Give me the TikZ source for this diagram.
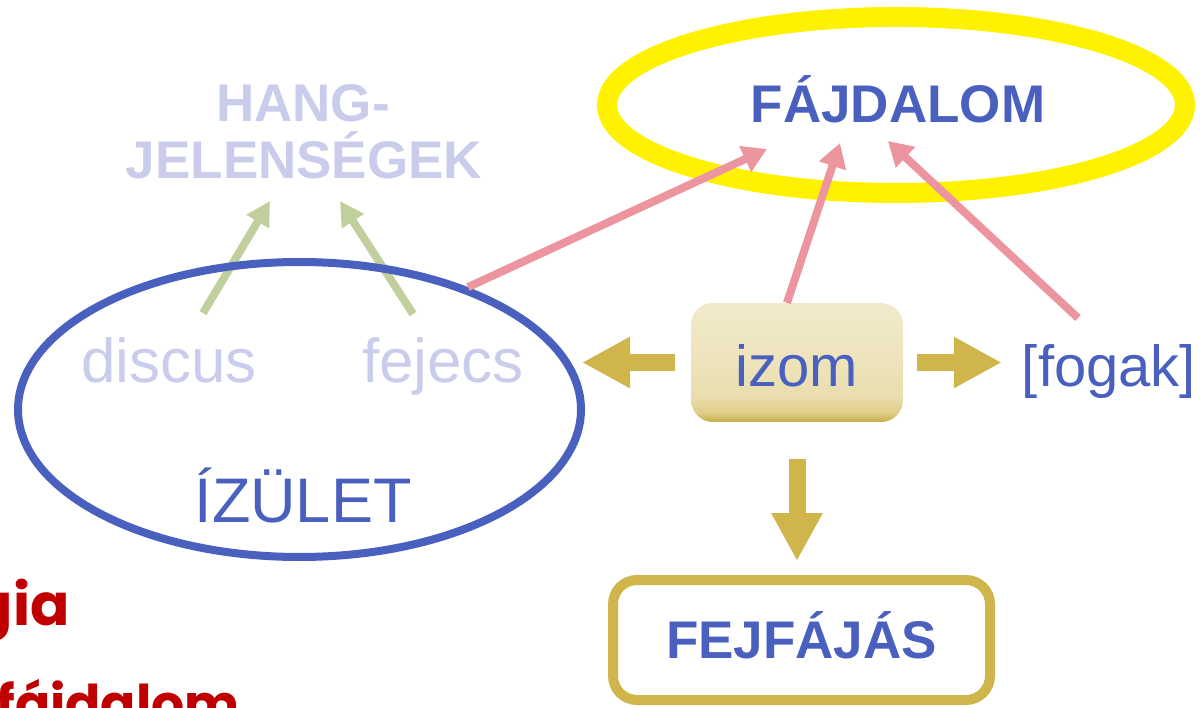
\documentclass[tikz,border=0pt]{standalone}
\usepackage{fontspec}
\setmainfont{Liberation Sans}
\newfontfamily\redfont{Poppins}
\usepackage{xcolor}
\usepackage{tikz}
\usetikzlibrary{arrows.meta,shapes.geometric}
\definecolor{painblue}{HTML}{4A60BF}
\definecolor{faded}{HTML}{C9CDEB}
\definecolor{soundgreen}{HTML}{C0CF9C}
\definecolor{painpink}{HTML}{EC959F}
\definecolor{musclegold}{HTML}{CFB54B}
\definecolor{slidered}{HTML}{C00000}
\pgfdeclareverticalshading{izomfade}{100bp}{color(0bp)=(musclegold!95!black); color(25bp)=(musclegold!95!black);
  color(29bp)=(musclegold!65!white); color(36bp)=(musclegold!45!white); color(55bp)=(musclegold!35!white);
  color(75bp)=(musclegold!30!white); color(100bp)=(musclegold!30!white)}

\begin{document}
\begin{tikzpicture}[x=1pt, y=-1pt,
    every node/.style={inner sep=0pt},
    word/.style={anchor=base, font=\fontsize{#1}{#1}\selectfont},
    fadedword/.style={word=#1, text=faded},
    blueword/.style={word=#1, text=painblue},
    redword/.style={anchor=base east, text=slidered, font=\redfont\bfseries\fontsize{#1}{#1}\selectfont},
    ring/.style={ellipse, draw, minimum width=#1},
    greenarrow/.style={draw=soundgreen, line width=8pt, -{Triangle[length=24pt,width=25pt]}},
    pinkarrow/.style={draw=painpink, line width=8pt, -{Triangle[length=24pt,width=27pt]}},
    goldarrow/.style={draw=musclegold, line width=17pt, -{Triangle[length=48pt,width=48pt]}}]
    \useasboundingbox (0,0) rectangle (1200,708);
    \clip (0,0) rectangle (1200,708);

    \node [ring=578pt, minimum height=176pt, draw=yellow, line width=20pt] (Halo) at (896,105) {};
    \node [word=53, text=painblue, font=\bfseries\fontsize{53}{53}\selectfont] (Fajdalom) at (898,123) {FÁJDALOM};
    \node [fadedword=53, font=\bfseries\fontsize{53}{53}\selectfont] (HangA) at (303,122) {HANG-};
    \node [fadedword=53, font=\bfseries\fontsize{53}{53}\selectfont] (HangB) at (304,179) {JELENSÉGEK};

    \node [fadedword=62] (Discus) at (169,383) {discus};
    \node [fadedword=62] (Fejecs) at (443,383) {fejecs};
    \node [blueword=63] (IzuletName) at (303,522) {ÍZÜLET};

    \draw [greenarrow] ([shift={(34,-70)}]Discus.base) -- ([shift={(-34,22)}]HangB.base);
    \draw [greenarrow] ([shift={(-30,-69)}]Fejecs.base) -- ([shift={(36,22)}]HangB.base);

    \node [ring=563pt, minimum height=295pt, draw=painblue, line width=8pt] (Izulet) at (299.5,409.5) {};

    \node [rounded corners=22pt, minimum width=212pt, minimum height=119pt, shading=izomfade,
           text=painblue, font=\fontsize{58}{58}\selectfont, text height=49pt, text depth=0pt] (Izom) at (797,362.5) {izom};
    \node [blueword=58] (Fogak) at (1109,387) {[fogak]};
    \node [draw=musclegold, line width=10pt, rounded corners=24pt, minimum width=377pt, minimum height=120pt,
           text=painblue, font=\bfseries\fontsize{53}{53}\selectfont, text height=36pt, text depth=0pt] (Fejfajas) at (801.5,640) {FEJFÁJÁS};

    \draw [pinkarrow] (Izulet.36) -- ([shift={(-131,26)}]Fajdalom.base);
    \draw [pinkarrow] ([xshift=-10pt]Izom.north) -- ([shift={(-58,20)}]Fajdalom.base);
    \draw [pinkarrow] ([shift={(-31,-69)}]Fogak.base) -- ([shift={(-10,18)}]Fajdalom.base);

    \draw [goldarrow, shorten <=16pt, shorten >=-3pt] (Izom.west) -- (Izom.west -| Izulet.east);
    \draw [goldarrow, shorten <=14pt, shorten >=20pt] (Izom.east) -- (Izom.east -| Fogak.west);
    \draw [goldarrow, shorten <=37pt, shorten >=14pt] (Izom.south) -- (Izom.south |- Fejfajas.north);

    \node [redword=58] (Gia) at (70,625) {gia};
    \node [redword=52] (RedFajdalom) at (240,722) {fájdalom};
\end{tikzpicture}
\end{document}
